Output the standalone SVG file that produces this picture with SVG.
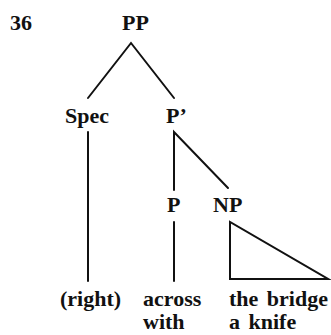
<svg xmlns="http://www.w3.org/2000/svg" width="331" height="335" viewBox="0 0 331 335">
<style>
text{font-family:"Liberation Serif","Times New Roman",serif;font-weight:bold;font-size:22px;fill:#111}
.e{stroke:#111;stroke-width:2;fill:none;stroke-linecap:round;stroke-linejoin:miter}
</style>
<rect width="331" height="335" fill="#fff"/>
<text x="10" y="30">36</text>
<g id="connectors">
<polyline class="e" points="88,98 131,43 174,98"/>
<line class="e" x1="88" y1="132" x2="88" y2="281"/>
<polyline class="e" points="174,190 174,132 228,188"/>
<line class="e" x1="174" y1="222" x2="174" y2="281"/>
<polygon class="e" points="230,222 230,279 328,279"/>
</g>
<g id="PP"><text x="122" y="30">PP</text></g>
<g id="Spec"><text x="65" y="123">Spec</text></g>
<g id="Pbar"><text x="166" y="123">P’</text></g>
<g id="P"><text x="167" y="212">P</text></g>
<g id="NP"><text x="213" y="212">NP</text></g>
<g id="right"><text x="60" y="306">(right)</text></g>
<g id="across"><text x="143" y="306">across</text><text x="143" y="329">with</text></g>
<g id="bridge"><text x="229" y="306" word-spacing="3">the bridge</text><text x="229" y="329" word-spacing="3">a knife</text></g>
</svg>
